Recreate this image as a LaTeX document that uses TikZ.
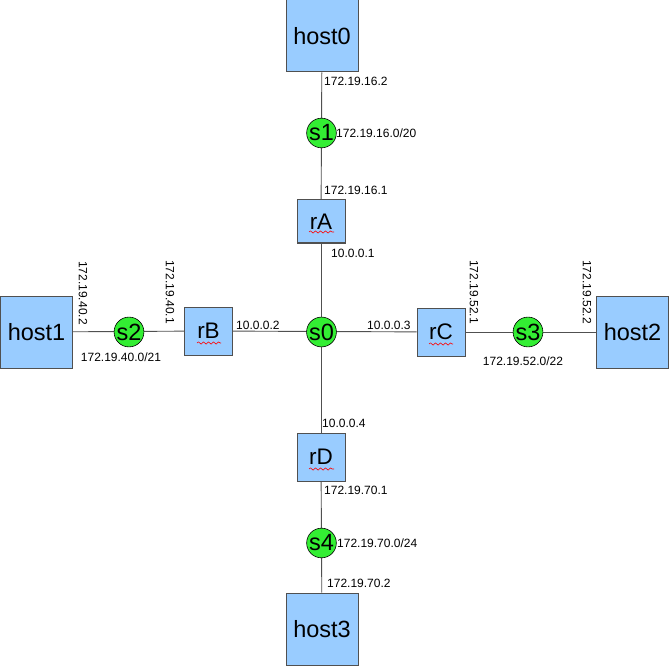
\documentclass[tikz,border=0pt]{standalone}
\usepackage{fontspec}
\setmainfont{Liberation Sans}
\usetikzlibrary{decorations.pathmorphing}
\definecolor{boxfill}{HTML}{99CCFF}
\definecolor{boxline}{HTML}{505050}
\definecolor{swfill}{HTML}{33EE33}
\begin{document}
\begin{tikzpicture}[x=1pt,y=-1pt,
  hostbox/.style={draw=boxline,line width=1pt,fill=boxfill,minimum width=72pt,minimum height=72pt,inner sep=0pt,font=\fontsize{23.5}{25}\selectfont},
  routerbox/.style={draw=boxline,line width=1pt,fill=boxfill,minimum width=48pt,inner sep=0pt,font=\fontsize{22.5}{24}\selectfont},
  switchnode/.style={circle,draw=black,line width=0.6pt,fill=swfill,minimum size=25pt,inner sep=0pt,font=\fontsize{23.5}{24}\selectfont},
  link/.style={draw=boxline,line width=0.9pt},
  lbl/.style={inner sep=0pt,font=\fontsize{12}{13}\selectfont},
  spell/.style={draw=red,line width=0.6pt,decorate,decoration={snake,amplitude=1.1pt,segment length=5pt}}]
\useasboundingbox (0,0) rectangle (670,666);
% nodes
\node[hostbox] (host0) at (322,36) {host0};
\node[hostbox] (host1) at (36.5,332) {host1};
\node[hostbox] (host2) at (632.5,332) {host2};
\node[hostbox] (host3) at (322,629) {host3};
\node[routerbox,minimum height=43pt] (rA) at (321,221.5) {rA};
\node[routerbox,minimum height=48pt] (rB) at (208.5,331) {rB};
\node[routerbox,minimum height=48pt] (rC) at (441,332) {rC};
\node[routerbox,minimum height=48pt] (rD) at (321,457) {rD};
% links
\draw[link] (host0) -- (rA);
\draw[link] (rA) -- (rD);
\draw[link] (rD) -- (host3);
\draw[link] (host1) -- (rB);
\draw[link] (rB) -- (rC);
\draw[link] (rC) -- (host2);
% switches
\node[switchnode] (s1) at (321.5,133) {s1};
\node[switchnode] (s0) at (321.5,332) {s0};
\node[switchnode] (s2) at (129,332) {s2};
\node[switchnode] (s3) at (528,332) {s3};
\node[switchnode] (s4) at (321.5,543) {s4};
% spell-check squiggles
\draw[spell] (309,232) -- (334,232);
\draw[spell] (197,343) -- (221,343);
\draw[spell] (429,344) -- (453,344);
\draw[spell] (309,469) -- (334,469);
% labels
\node[lbl,anchor=west] (l1) at (324,81.5) {172.19.16.2};
\node[lbl,anchor=west] (l2) at (336,133) {172.19.16.0/20};
\node[lbl,anchor=west] (l3) at (324,190) {172.19.16.1};
\node[lbl,anchor=west] (l4) at (331,253) {10.0.0.1};
\node[lbl,rotate=-90] (l5) at (83,293) {172.19.40.2};
\node[lbl,rotate=-90] (l6) at (170,292) {172.19.40.1};
\node[lbl] (l7) at (121,357) {172.19.40.0/21};
\node[lbl,anchor=west] (l8) at (236,325) {10.0.0.2};
\node[lbl,anchor=west] (l9) at (367,325) {10.0.0.3};
\node[lbl,rotate=-90] (l10) at (474,292) {172.19.52.1};
\node[lbl,rotate=-90] (l11) at (587,292) {172.19.52.2};
\node[lbl] (l12) at (523,361) {172.19.52.0/22};
\node[lbl,anchor=west] (l13) at (322,423) {10.0.0.4};
\node[lbl,anchor=west] (l14) at (324,490) {172.19.70.1};
\node[lbl,anchor=west] (l15) at (337,543) {172.19.70.0/24};
\node[lbl,anchor=west] (l16) at (327,583) {172.19.70.2};
\end{tikzpicture}
\end{document}
